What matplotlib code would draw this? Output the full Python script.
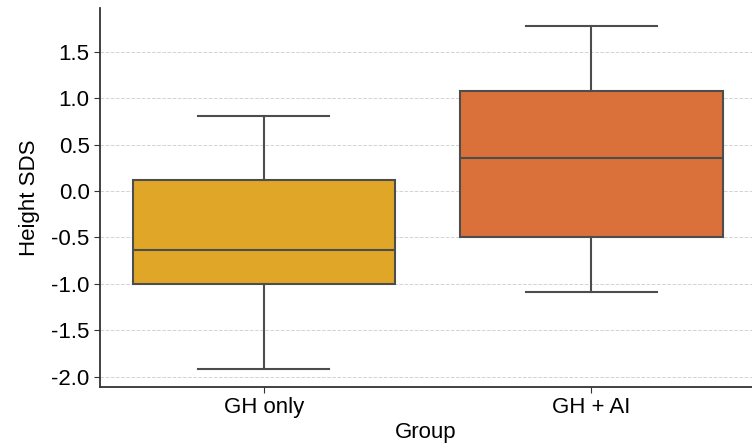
import matplotlib
matplotlib.use("Agg")
import matplotlib.pyplot as plt

# box stats
groups = ["GH only", "GH + AI"]
whislo = [-1.92, -1.09]
q1 = [-1.00, -0.50]
med = [-0.635, 0.36]
q3 = [0.12, 1.075]
whishi = [0.805, 1.785]
colors = ["#E0A628", "#DA713B"]

plt.rcParams['font.family'] = ['Liberation Sans', 'DejaVu Sans']
plt.rcParams['axes.unicode_minus'] = False

fig = plt.figure(figsize=(7.52, 4.43), dpi=100)
ax = fig.add_axes([0.133, 0.127, 0.867, 0.855])

stats = []
for i, g in enumerate(groups):
    stats.append(dict(label=g, whislo=whislo[i], q1=q1[i], med=med[i],
                      q3=q3[i], whishi=whishi[i], fliers=[]))

line_c = "#4d4d4d"
bp = ax.bxp(stats, positions=range(len(groups)), widths=0.8, patch_artist=True,
            showfliers=False,
            boxprops=dict(edgecolor=line_c, linewidth=1.5),
            medianprops=dict(color=line_c, linewidth=1.5),
            whiskerprops=dict(color=line_c, linewidth=1.5),
            capprops=dict(color=line_c, linewidth=1.5))
for patch, c in zip(bp['boxes'], colors):
    patch.set_facecolor(c)

ax.set_xlim(-0.5, 1.49)
ax.set_ylim(-2.11, 1.975)
ax.set_yticks([-2.0, -1.5, -1.0, -0.5, 0.0, 0.5, 1.0, 1.5])
ax.set_xticks(range(len(groups)))
ax.set_xticklabels(groups)
ax.yaxis.grid(True, linestyle='--', color='#d3d3d3', linewidth=0.7)
ax.set_axisbelow(True)
for s in ['top', 'right']:
    ax.spines[s].set_visible(False)
for s in ['left', 'bottom']:
    ax.spines[s].set_color('#333333')
    ax.spines[s].set_linewidth(1.3)
ax.tick_params(labelsize=16, colors='#333333', labelcolor='black', length=4)
ax.set_xlabel("Group", fontsize=16, labelpad=3)
ax.set_ylabel("Height SDS", fontsize=16, labelpad=8)

fig.savefig("out.png", dpi=100)
